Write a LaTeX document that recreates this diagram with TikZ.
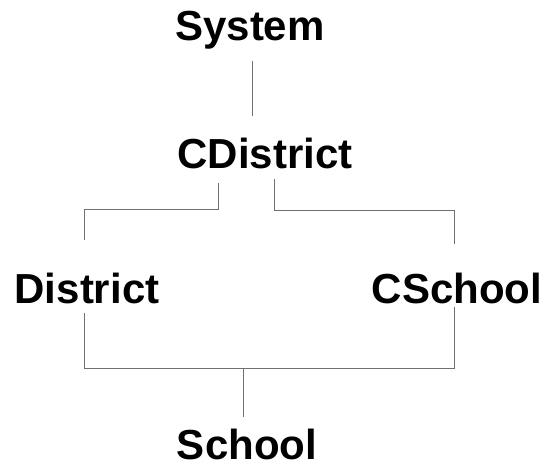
\documentclass[tikz,border=0pt]{standalone}
\usepackage{fontspec}
\setmainfont{Liberation Sans}
\usetikzlibrary{calc}
\definecolor{link_gray}{RGB}{112, 112, 112}

\begin{document}
\begin{tikzpicture}[
    x=1pt, y=-1pt,
    % Define the level label style
    level/.style={
        inner sep=0pt,
        anchor=base,
        text height=30pt,
        text depth=9pt,
        font=\fontsize{42}{50}\selectfont\bfseries
    },
    % Connection style
    link/.style={
        line width=1pt,
        draw=link_gray
    }
]
\useasboundingbox (0,0) rectangle (546,467);

% Position the five levels
\node[level] (system) at (250,40) {System};
\node[level] (cdistrict) at (265,168) {CDistrict};

\node[level] (district) at (87,303) {District};
\node[level] (cschool) at (457,303) {CSchool};

\node[level, text depth=1pt] (school) at (247,459) {School};

% Connect them
\draw[link] ($(system.south)+(2,12)$) -- ($(cdistrict.north)+(-13,-22)$);

\draw[link] ($(cdistrict.south)+(-47,6)$) -- ++(0,26) -| ($(district.north)+(-3,-33)$);
\draw[link] ($(cdistrict.south)+(9,2)$) -- ++(0,31) -| ($(cschool.north)+(-3,-29)$);

\draw[link] ($(district.south)+(-3,1)$) -- ++(0,55) -| ($(cschool.south)+(-3,-5)$);
\draw[link] ($(school.north)+(-4,-12)$) -- ++(0,-49);

\end{tikzpicture}
\end{document}
